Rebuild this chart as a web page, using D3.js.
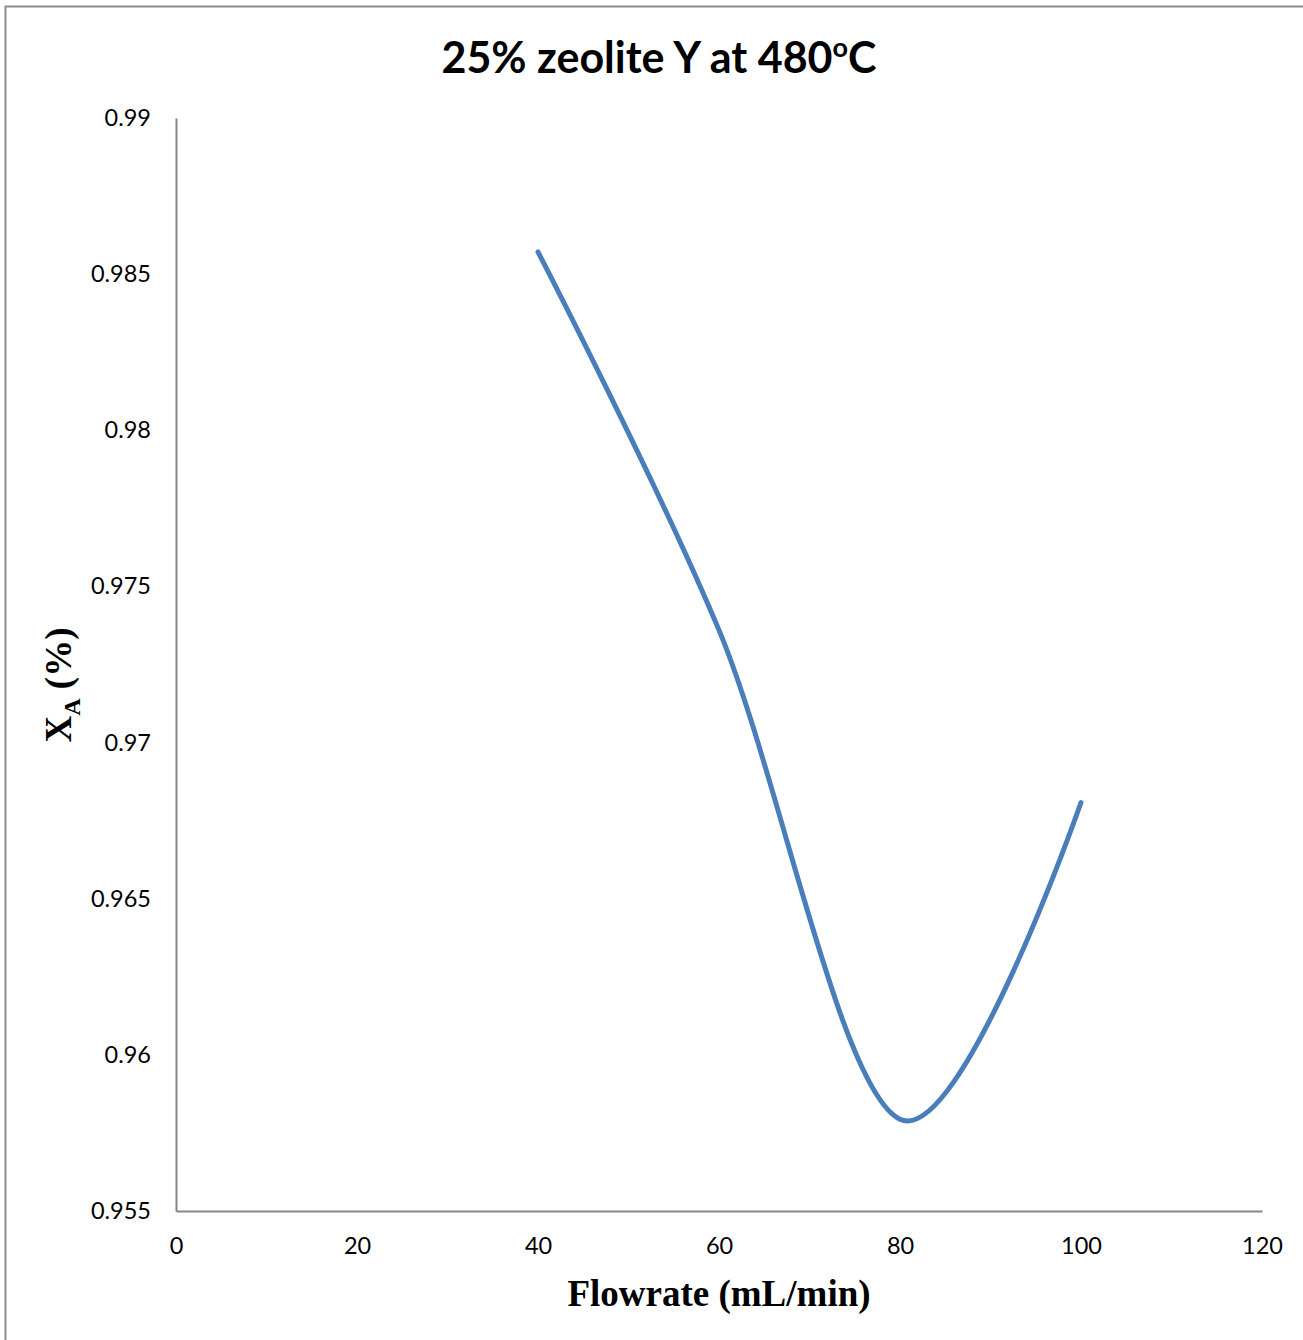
<!DOCTYPE html>
<html>
<head>
<meta charset="utf-8">
<script src="https://cdn.jsdelivr.net/npm/d3@7"></script>
<style>
  html, body { margin: 0; padding: 0; background: #fff; }
  svg { display: block; }
</style>
</head>
<body>
<svg id="chart" width="1303" height="1340"></svg>
<script>
// Conversion vs. flowrate, 25% zeolite Y at 480 °C
const flowrate = [40, 60, 80, 100];
const conversion = [0.98571, 0.9736, 0.95794, 0.96808];
const xTicks = [0, 20, 40, 60, 80, 100, 120];
const yTicks = [0.955, 0.96, 0.965, 0.97, 0.975, 0.98, 0.985, 0.99];

const svg = d3.select("#chart");
const W = 1303, H = 1340;
const plot = { left: 176, right: 1262, top: 118, bottom: 1211 };

svg.append("rect").attr("width", W).attr("height", H).attr("fill", "#fff");
// outer chart frame
svg.append("rect")
  .attr("x", 5.5).attr("y", 6.5)
  .attr("width", W + 10).attr("height", H + 10)
  .attr("fill", "none").attr("stroke", "#8c8c8c").attr("stroke-width", 2);

const x = d3.scaleLinear().domain([0, 120]).range([plot.left, plot.right]);
const y = d3.scaleLinear().domain([0.955, 0.99]).range([plot.bottom, plot.top]);

const tickFont = "Lato, 'Open Sans', sans-serif";

const xAxis = d3.axisBottom(x).tickValues(xTicks).tickSize(0).tickPadding(26)
  .tickFormat(d3.format("d"));
const gx = svg.append("g").attr("transform", `translate(0,${plot.bottom})`).call(xAxis);
gx.select(".domain").attr("stroke", "#868686").attr("stroke-width", 2);
gx.selectAll("text").attr("font-family", tickFont).attr("font-size", 23.5).attr("fill", "#000");

const yAxis = d3.axisLeft(y).tickValues(yTicks).tickSize(0).tickPadding(25)
  .tickFormat(d => d3.format("")(+d.toFixed(3)));
const gy = svg.append("g").attr("transform", `translate(${plot.left},0)`).call(yAxis);
gy.select(".domain").attr("stroke", "#868686").attr("stroke-width", 2);
gy.selectAll("text").attr("font-family", tickFont).attr("font-size", 23.5).attr("fill", "#000");

// smoothed series line
const line = d3.line()
  .x((d, i) => x(flowrate[i]))
  .y(d => y(d))
  .curve(d3.curveCardinal.tension(0));
svg.append("path")
  .datum(conversion)
  .attr("d", line)
  .attr("fill", "none")
  .attr("stroke", "#4a7ebb")
  .attr("stroke-width", 5)
  .attr("stroke-linecap", "round");

// title
const title = svg.append("text")
  .attr("x", 659).attr("y", 73)
  .attr("text-anchor", "middle")
  .attr("font-family", tickFont)
  .attr("font-weight", "bold")
  .attr("font-size", 43)
  .attr("fill", "#000");
title.append("tspan").text("25% zeolite Y at 480");
title.append("tspan").attr("font-size", 27).attr("dy", -16).text("o");
title.append("tspan").attr("dy", 16).text("C");

// x-axis title
svg.append("text")
  .attr("x", 719).attr("y", 1306)
  .attr("text-anchor", "middle")
  .attr("font-family", "'Liberation Serif', 'Times New Roman', serif")
  .attr("font-weight", "bold")
  .attr("font-size", 37)
  .attr("fill", "#000")
  .text("Flowrate (mL/min)");

// y-axis title
const yt = svg.append("text")
  .attr("transform", "translate(71,685) rotate(-90)")
  .attr("text-anchor", "middle")
  .attr("font-family", "'Liberation Serif', 'Times New Roman', serif")
  .attr("font-weight", "bold")
  .attr("font-size", 37)
  .attr("fill", "#000");
yt.append("tspan").text("X");
yt.append("tspan").attr("font-size", 24).attr("dy", 9).text("A");
yt.append("tspan").attr("dy", -9).text(" (%)");
</script>
</body>
</html>
